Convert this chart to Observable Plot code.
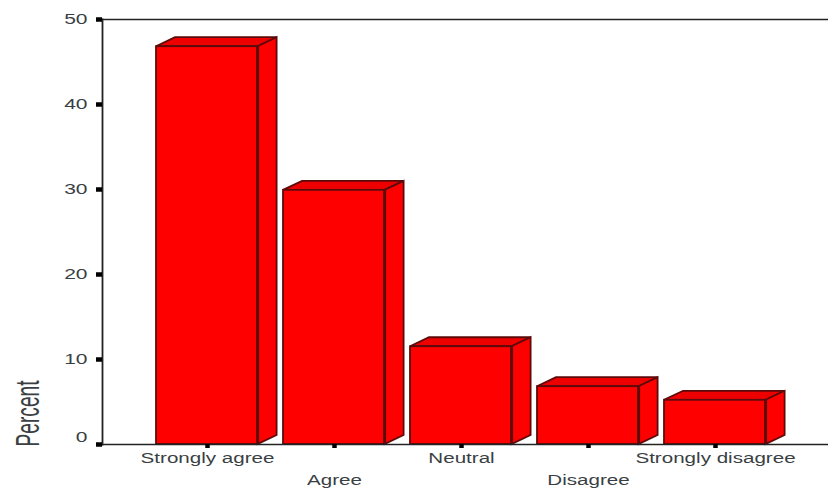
<!DOCTYPE html>
<html>
<head>
<meta charset="utf-8">
<script src="https://cdn.jsdelivr.net/npm/d3@7"></script>
<script src="https://cdn.jsdelivr.net/npm/@observablehq/plot@0.6"></script>
<style>
html,body{margin:0;padding:0;background:#fff;overflow:hidden}
svg{display:block}
</style>
</head>
<body>
<div id="chart"></div>
<script>
const categories = ["Strongly agree", "Agree", "Neutral", "Disagree", "Strongly disagree"];
const percents = [46.8, 29.9, 11.5, 6.8, 5.2];
const yTicks = [0, 10, 20, 30, 40, 50];
const rows = categories.map((category, i) => ({category, percent: percents[i]}));

const RED = "#ff0000", EDGE = "#5c0a0a", INK = "#3a3f44", FONT = "'Liberation Sans', Arial, sans-serif";
const BAR_PADDING = 0.2, DEPTH_X = 19, DEPTH_Y = 9, STRETCH_X = 1.47, STRETCH_Y = 1.5;

function depthFaces(index, {x, y}) {
  const g = d3.create("svg:g");
  const step = x(categories[1]) - x(categories[0]);
  const w = step * (1 - BAR_PADDING);
  for (const d of rows) {
    const l = x(d.category), r = l + w, t = y(d.percent), b = y(0);
    g.append("polygon")
      .attr("points", [[l, t], [l + DEPTH_X, t - DEPTH_Y], [r + DEPTH_X, t - DEPTH_Y], [r, t]].join(" "))
      .attr("fill", "#ee0000").attr("stroke", EDGE).attr("stroke-width", 1.8);
    g.append("polygon")
      .attr("points", [[r, t], [r + DEPTH_X, t - DEPTH_Y], [r + DEPTH_X, b - DEPTH_Y], [r, b]].join(" "))
      .attr("fill", RED).attr("stroke", EDGE).attr("stroke-width", 1.8);
  }
  return g.node();
}

function frontEdges(index, {x, y}) {
  const g = d3.create("svg:g");
  const step = x(categories[1]) - x(categories[0]);
  const w = step * (1 - BAR_PADDING);
  for (const d of rows) {
    const r = x(d.category) + w;
    g.append("line").attr("x1", r).attr("x2", r).attr("y1", y(d.percent)).attr("y2", y(0))
      .attr("stroke", EDGE).attr("stroke-width", 3);
  }
  return g.node();
}

const plot = Plot.plot({
  width: 828,
  height: 488,
  marginLeft: 102,
  marginRight: 0,
  marginTop: 19,
  marginBottom: 44,
  style: {background: "#fff", fontFamily: FONT, overflow: "visible"},
  x: {type: "band", domain: categories, padding: BAR_PADDING, paddingOuter: 0.1, range: [141.75, 779.25], label: null},
  y: {domain: [0, 50], label: null},
  marks: [
    depthFaces,
    Plot.barY(rows, {x: "category", y: "percent", fill: RED, stroke: EDGE, strokeWidth: 1.8}),
    frontEdges,
    Plot.frame({anchor: "top", stroke: "#222", strokeWidth: 1.4}),
    Plot.frame({anchor: "bottom", stroke: "#222", strokeWidth: 1.4}),
    Plot.frame({anchor: "left", stroke: "#222", strokeWidth: 1.8}),
    Plot.axisY(yTicks, {anchor: "left", tickSize: 6, tickPadding: 9, strokeWidth: 4.5, stroke: "#000",
      fill: INK, fontSize: 14, tickFormat: d => d === 0 ? "" : String(d), className: "ty"}),
    Plot.text([0], {y: d => d, text: d => String(d), frameAnchor: "left", textAnchor: "end", dx: -15, dy: -7,
      fill: INK, fontSize: 14, className: "ty"}),
    Plot.axisX(categories.filter((_, i) => i % 2 === 0), {anchor: "bottom", tickSize: 4, tickPadding: 5, strokeWidth: 4.5,
      stroke: "#000", fill: INK, fontSize: 14, className: "tx"}),
    Plot.axisX(categories.filter((_, i) => i % 2 === 1), {anchor: "bottom", tickSize: 4, tickPadding: 27, strokeWidth: 4.5,
      stroke: "#000", fill: INK, fontSize: 14, className: "tx"}),
    Plot.text(["Percent"], {y: [3.65], text: d => d, frameAnchor: "left", dx: -74, rotate: -90, fill: INK, fontSize: 34,
      textAnchor: "middle", className: "yname"})
  ]
});
document.getElementById("chart").appendChild(plot);

const stretch = (selector, k) => plot.querySelectorAll(selector).forEach(t => {
  const n = t.getComputedTextLength();
  if (n > 0) { t.setAttribute("textLength", n * k); t.setAttribute("lengthAdjust", "spacingAndGlyphs"); }
});
stretch(".tx text, text.tx", STRETCH_X);
stretch(".ty text, text.ty", STRETCH_Y);
plot.querySelectorAll(".yname text, text.yname").forEach(t => {
  t.setAttribute("textLength", 66); t.setAttribute("lengthAdjust", "spacingAndGlyphs");
});
</script>
</body>
</html>
